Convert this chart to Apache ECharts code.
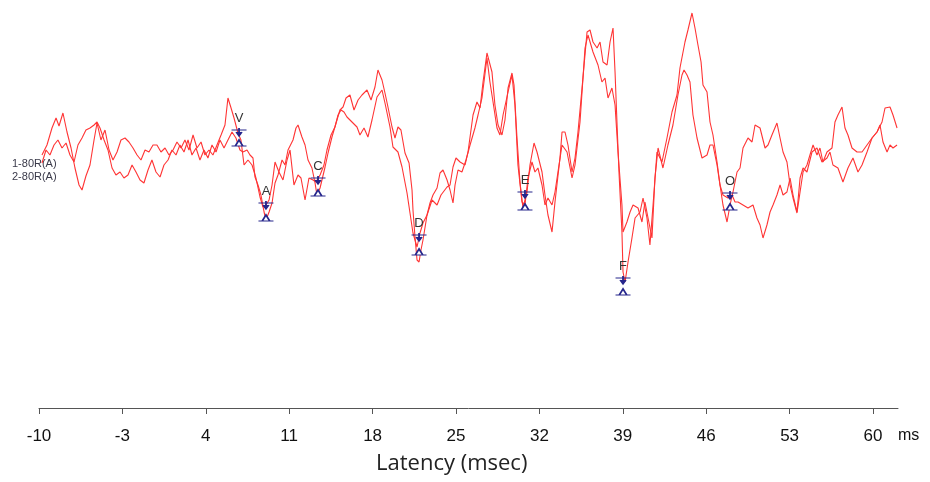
<!DOCTYPE html>
<html>
<head>
<meta charset="utf-8">
<script src="https://cdn.jsdelivr.net/npm/echarts@6/dist/echarts.min.js"></script>
<style>
html, body { margin: 0; padding: 0; background: #fff; }
#chart { width: 930px; height: 482px; }
</style>
</head>
<body>
<div id="chart"></div>
<script>
// latency ticks (ms)
const tickValues = [-10, -3, 4, 11, 18, 25, 32, 39, 46, 53, 60];
const traceNames = ['1-80R(A)', '2-80R(A)'];
// [latency ms, amplitude]
const trace1 = [
  [-9.75,10],[-9.33,20],[-8.91,37],[-8.57,47],[-8.32,39],[-7.99,52],[-7.65,33],[-7.31,17],[-6.98,-3],[-6.64,-20],
  [-6.39,-25],[-6.06,-11],[-5.72,0],[-5.38,25],[-5.13,42],[-4.80,25],[-4.46,35],[-4.12,15],[-3.79,5],[-3.45,13],
  [-3.12,25],[-2.78,27],[-2.45,23],[-2.11,17],[-1.77,10],[-1.44,5],[-1.10,15],[-0.77,13],[-0.43,20],[-0.10,20],
  [0.24,13],[0.58,17],[0.91,10],[1.25,15],[1.58,23],[1.92,17],[2.25,25],[2.59,15],[2.93,30],[3.26,17],
  [3.60,23],[3.93,10],[4.27,15],[4.60,10],[4.94,20],[5.28,30],[5.61,40],[5.86,67],[6.12,57],[6.37,47],
  [6.70,32],[6.95,25],[7.21,0],[7.54,5],[7.88,0],[8.21,-13],[8.55,-32],[8.80,-42],[9.05,-40],[9.31,-35],
  [9.56,-20],[9.81,3],[10.14,-7],[10.48,-15],[10.82,5],[11.07,15],[11.40,-20],[11.74,-10],[11.99,-13],[12.33,-35],
  [12.66,-13],[13.00,-15],[13.25,-17],[13.59,-10],[13.92,0],[14.17,15],[14.51,30],[14.84,38],[15.10,50],[15.35,55],
  [15.60,53],[15.85,48],[16.27,43],[16.69,38],[16.94,30],[17.28,37],[17.61,28],[17.95,45],[18.37,68],[18.79,75],
  [19.04,62],[19.46,38],[19.71,18],[20.13,13],[20.47,-2],[20.89,-28],[21.14,-48],[21.39,-68],[21.73,-82],[21.98,-68],
  [22.23,-58],[22.57,-50],[22.99,-35],[23.41,-40],[23.74,-30],[24.25,-22],[24.50,-20],[24.75,-2],[25.00,7],[25.34,3],
  [25.76,0],[26.01,13],[26.43,50],[26.76,63],[27.02,57],[27.27,83],[27.60,112],[28.02,93],[28.27,60],[28.53,40],
  [28.86,30],[29.11,45],[29.37,77],[29.70,92],[29.87,80],[30.12,27],[30.37,-17],[30.62,-43],[30.96,-27],[31.21,0],
  [31.55,22],[31.80,13],[32.22,-7],[32.47,-30],[32.72,-50],[33.06,-67],[33.31,-37],[33.73,7],[33.90,33],[34.15,33],
  [34.40,20],[34.74,-7],[34.99,7],[35.24,33],[35.58,77],[36.00,133],[36.25,135],[36.50,123],[36.84,117],[37.09,123],
  [37.34,103],[37.68,100],[37.93,123],[38.18,137],[38.35,93],[38.51,43],[38.68,-7],[38.93,-67],[39.02,-107],[39.19,-117],
  [39.44,-97],[39.77,-73],[40.03,-53],[40.45,-47],[40.70,-33],[41.03,-53],[41.28,-80],[41.54,-40],[41.87,13],[42.29,3],
  [42.71,27],[43.13,53],[43.55,70],[43.80,97],[44.22,123],[44.47,135],[44.81,152],[45.06,137],[45.31,120],[45.57,103],
  [45.73,80],[46.07,73],[46.32,43],[46.57,30],[46.91,3],[47.16,-20],[47.41,-40],[47.75,-57],[48.00,-40],[48.25,-27],
  [48.59,-7],[48.84,-3],[49.09,17],[49.51,27],[49.85,23],[50.10,40],[50.52,37],[50.94,17],[51.19,20],[51.52,30],
  [51.94,42],[52.20,27],[52.45,13],[52.78,3],[53.04,-20],[53.29,-33],[53.62,-48],[53.88,-27],[54.13,-7],[54.46,0],
  [54.71,10],[54.97,20],[55.30,10],[55.55,17],[55.80,3],[56.14,13],[56.56,17],[56.81,43],[57.06,50],[57.40,58],
  [57.65,37],[57.90,30],[58.24,17],[58.66,13],[59.08,13],[59.50,20],[59.92,27],[60.34,33],[60.76,43],[61.01,57],
  [61.43,58],[61.68,50],[62.02,37]
];
const trace2 = [
  [-9.75,2],[-9.41,15],[-9.08,10],[-8.74,20],[-8.41,25],[-8.07,17],[-7.73,22],[-7.40,10],[-7.06,3],[-6.73,20],
  [-6.39,27],[-6.06,35],[-5.72,37],[-5.38,40],[-5.13,43],[-4.88,37],[-4.54,25],[-4.21,15],[-3.87,-3],[-3.54,-10],
  [-3.20,-7],[-2.87,-13],[-2.53,-10],[-2.19,0],[-1.86,-7],[-1.52,-15],[-1.19,-18],[-0.85,-5],[-0.52,5],[-0.18,-7],
  [0.16,-12],[0.49,0],[0.83,5],[1.16,15],[1.50,10],[1.83,20],[2.17,13],[2.51,25],[2.84,10],[3.18,17],
  [3.51,5],[3.85,15],[4.18,7],[4.52,20],[4.86,13],[5.19,25],[5.53,17],[5.86,25],[6.20,33],[6.53,27],
  [6.87,15],[7.12,13],[7.46,15],[7.71,10],[7.96,7],[8.13,-12],[8.38,-20],[8.63,-30],[8.89,-47],[9.05,-55],
  [9.31,-47],[9.56,-38],[9.81,-18],[10.06,-10],[10.40,5],[10.65,0],[10.90,15],[11.32,25],[11.57,37],[11.74,40],
  [12.07,28],[12.33,20],[12.58,5],[12.91,-3],[13.17,-18],[13.33,-30],[13.59,-23],[14.01,-2],[14.26,12],[14.59,28],
  [15.01,45],[15.26,55],[15.52,58],[15.77,67],[16.10,70],[16.44,55],[16.78,65],[17.11,70],[17.53,75],[17.87,65],
  [18.20,78],[18.45,95],[18.79,85],[19.04,72],[19.29,58],[19.63,38],[19.88,27],[20.13,38],[20.38,35],[20.72,12],
  [21.06,2],[21.31,-25],[21.39,-45],[21.56,-72],[21.73,-95],[21.90,-97],[22.06,-85],[22.23,-75],[22.57,-50],[22.82,-38],
  [23.07,-30],[23.41,-23],[23.66,-8],[23.91,-5],[24.25,-15],[24.50,-25],[24.75,-38],[24.92,-20],[25.17,-5],[25.50,-7],
  [25.84,5],[26.18,20],[26.59,37],[26.85,50],[27.18,67],[27.60,107],[27.85,83],[28.11,63],[28.44,37],[28.69,30],
  [28.95,50],[29.37,73],[29.70,90],[29.95,60],[30.20,0],[30.54,-37],[30.79,-40],[31.04,-13],[31.38,3],[31.63,-7],
  [31.88,-3],[32.22,-20],[32.47,-40],[32.72,-33],[33.06,-40],[33.31,-27],[33.56,-7],[33.90,20],[34.32,13],[34.74,-13],
  [34.99,0],[35.41,43],[35.83,117],[36.08,130],[36.50,113],[36.92,100],[37.25,83],[37.51,87],[37.76,67],[38.09,77],
  [38.35,60],[38.60,13],[38.93,-40],[39.02,-67],[39.35,-57],[39.61,-47],[39.86,-40],[40.28,-43],[40.61,-57],[40.86,-37],
  [41.12,-53],[41.45,-73],[41.70,-13],[41.96,17],[42.37,-3],[42.79,20],[43.21,40],[43.63,70],[43.97,90],[44.14,95],
  [44.39,90],[44.64,83],[44.89,50],[45.23,27],[45.65,7],[46.07,10],[46.32,20],[46.57,20],[46.91,0],[47.16,-20],
  [47.41,-30],[47.83,-33],[48.17,-30],[48.42,-37],[48.67,-37],[49.09,-40],[49.51,-43],[49.93,-40],[50.26,-53],[50.52,-60],
  [50.77,-73],[51.10,-60],[51.36,-47],[51.61,-40],[51.94,-30],[52.20,-20],[52.45,-30],[52.78,-27],[53.04,-13],[53.29,-30],
  [53.62,-47],[53.88,-13],[54.13,-3],[54.46,-7],[54.88,13],[55.30,17],[55.72,3],[56.14,7],[56.39,13],[56.64,0],
  [57.06,-3],[57.48,-17],[57.90,-3],[58.32,7],[58.74,-7],[59.08,0],[59.50,13],[59.92,27],[60.34,33],[60.59,40],
  [60.84,23],[61.18,13],[61.43,20],[61.68,17],[62.02,20]
];
// peak markers
const peakNames = ['V', 'A', 'C', 'D', 'E', 'F', 'O'];
const peakLatency = [6.79, 9.05, 13.42, 21.9, 30.79, 39.02, 48.0];
const peakUpper = [33, -40, -15, -72, -29, -115, -30];
const peakLower = [22, -53, -28, -87, -42, -127, -42];

const narrow = "'Liberation Sans Narrow', 'Arial Narrow', 'Liberation Sans', Arial, sans-serif";
const markColor = '#26268c';
const lineColor = '#ff3434';

const chart = echarts.init(document.getElementById('chart'));
const option = {
  animation: false,
  grid: { left: 39, right: 32, top: 0, bottom: 74 },
  xAxis: {
    type: 'value',
    min: -10,
    max: 62.1,
    splitLine: { show: false },
    axisLine: { onZero: false, lineStyle: { color: '#555', width: 1 } },
    axisTick: { length: 6, lineStyle: { color: '#555' }, customValues: tickValues },
    axisLabel: { customValues: tickValues, margin: 20, fontSize: 17, color: '#111', fontFamily: narrow }
  },
  yAxis: { type: 'value', min: -243, max: 165, show: false },
  graphic: [
    { type: 'text', left: 12, top: 158, style: { text: traceNames[0], fontSize: 11, fill: '#3a3a4a', fontFamily: narrow } },
    { type: 'text', left: 12, top: 171, style: { text: traceNames[1], fontSize: 11, fill: '#3a3a4a', fontFamily: narrow } },
    { type: 'text', left: 898, top: 428, style: { text: 'ms', fontSize: 16, fill: '#111', fontFamily: narrow } },
    { type: 'text', left: 376, top: 453, style: { text: 'Latency (msec)', fontSize: 22, fill: '#222', fontFamily: "'Open Sans', sans-serif" } }
  ],
  series: [
    { name: traceNames[0], type: 'line', data: trace1, showSymbol: false, lineStyle: { color: lineColor, width: 1.1 } },
    { name: traceNames[1], type: 'line', data: trace2, showSymbol: false, lineStyle: { color: lineColor, width: 1.1 } },
    {
      type: 'scatter', z: 5,
      symbol: 'path://M0,2L16,2M8,0L8,8M5,4L8,8L11,4',
      symbolSize: [15, 8],
      itemStyle: { color: markColor, opacity: 1, borderColor: markColor, borderWidth: 1.3 },
      label: {
        show: true, position: 'top', distance: 3, fontSize: 13, color: '#333',
        fontFamily: 'Liberation Sans, Arial, sans-serif',
        formatter: (p) => peakNames[p.dataIndex]
      },
      data: peakLatency.map((t, i) => [t, peakUpper[i]])
    },
    {
      type: 'scatter', z: 5,
      symbol: 'path://M0,8L16,8M4,8L8,2L12,8',
      symbolSize: [15, 6],
      itemStyle: { color: '#fff', opacity: 1, borderColor: markColor, borderWidth: 1.3 },
      data: peakLatency.map((t, i) => [t, peakLower[i]])
    }
  ]
};
chart.setOption(option);
</script>
</body>
</html>
